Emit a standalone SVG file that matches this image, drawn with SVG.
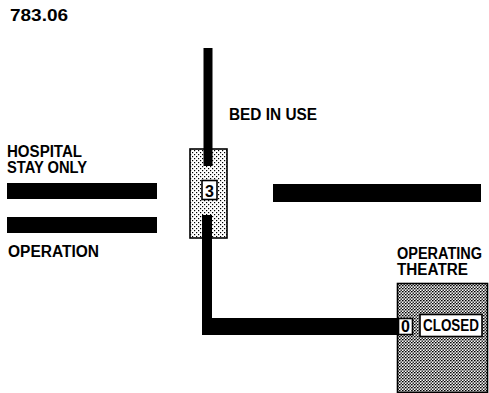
<svg xmlns="http://www.w3.org/2000/svg" width="489" height="393" viewBox="0 0 489 393">
  <defs>
    <pattern id="lightDots" width="4" height="4" patternUnits="userSpaceOnUse">
      <rect width="4" height="4" fill="#fff"/>
      <rect x="0" y="0" width="1.2" height="1.2" fill="#000"/>
      <rect x="2" y="2" width="1.2" height="1.2" fill="#000"/>
    </pattern>
    <pattern id="darkDots" width="3" height="3" patternUnits="userSpaceOnUse">
      <rect width="3" height="3" fill="#fff"/>
      <rect x="0" y="0" width="1.4" height="1.4" fill="#000"/>
      <rect x="1.5" y="1.5" width="1.4" height="1.4" fill="#000"/>
      <rect x="1.5" y="0" width="0.7" height="0.7" fill="#000"/>
    </pattern>
    <style>
      text { font-family: "Liberation Sans", Arial, sans-serif; font-weight: bold; font-size: 16px; fill: #000; }
      .bar { fill: #000; }
      .frame { stroke: #000; stroke-width: 1.6; }
      .label-box { fill: #fff; stroke: #000; stroke-width: 1.6; }
    </style>
  </defs>
  <rect width="489" height="393" fill="#fff"/>

  <g id="title">
    <text x="10" y="21" textLength="58" lengthAdjust="spacingAndGlyphs" font-size="15">783.06</text>
  </g>

  <g id="hospital-stay">
    <text x="7" y="157" textLength="75" lengthAdjust="spacingAndGlyphs">HOSPITAL</text>
    <text x="7" y="173" textLength="80" lengthAdjust="spacingAndGlyphs">STAY ONLY</text>
    <rect class="bar" x="7" y="183" width="150" height="16"/>
  </g>

  <g id="operation">
    <rect class="bar" x="7" y="217" width="150" height="16"/>
    <text x="8" y="257" textLength="91" lengthAdjust="spacingAndGlyphs">OPERATION</text>
  </g>

  <g id="right-bar">
    <rect class="bar" x="273" y="184" width="208" height="18"/>
  </g>

  <g id="bed-in-use-label">
    <text x="229" y="120" textLength="88" lengthAdjust="spacingAndGlyphs">BED IN USE</text>
  </g>

  <g id="bed-box">
    <rect class="frame" x="190" y="149" width="37" height="89" fill="url(#lightDots)"/>
  </g>

  <g id="theatre">
    <text x="397" y="259" textLength="85" lengthAdjust="spacingAndGlyphs" font-size="14.5">OPERATING</text>
    <text x="397" y="275" textLength="71" lengthAdjust="spacingAndGlyphs">THEATRE</text>
    <rect class="frame" x="397.5" y="283.5" width="90" height="109" fill="url(#darkDots)"/>
  </g>

  <g id="connectors">
    <rect class="bar" x="203.5" y="48" width="9" height="118"/>
    <path class="bar" d="M202,215 H212 V318 H399 V335 H202 Z"/>
  </g>

  <g id="bed-count">
    <rect class="label-box" x="202" y="180.5" width="15" height="19"/>
    <text x="209.5" y="196.5" text-anchor="middle" font-size="15">3</text>
  </g>

  <g id="theatre-count">
    <rect class="label-box" x="398.5" y="318.5" width="14" height="16"/>
    <text x="405.5" y="332" text-anchor="middle" font-size="14">0</text>
  </g>

  <g id="closed-sign">
    <rect class="label-box" x="420" y="314.5" width="62" height="22"/>
    <text x="423" y="331" textLength="56" lengthAdjust="spacingAndGlyphs" font-size="15">CLOSED</text>
  </g>
</svg>
